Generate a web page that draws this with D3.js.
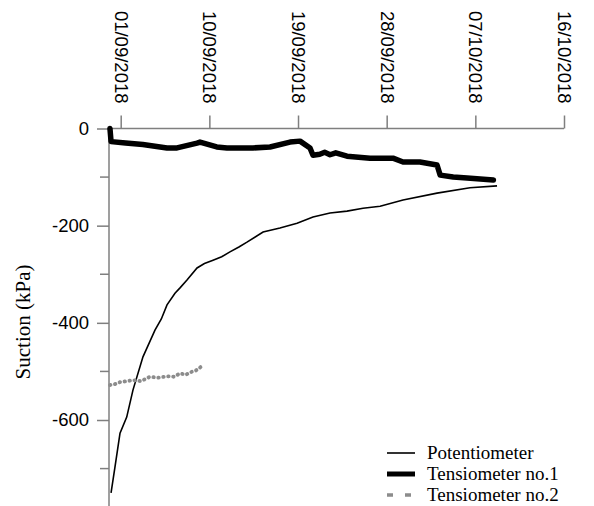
<!DOCTYPE html>
<html>
<head>
<meta charset="utf-8">
<script src="https://cdn.jsdelivr.net/npm/d3@7"></script>
<style>
  body { margin: 0; background: #fff; }
</style>
</head>
<body>
<div id="chart"></div>
<script>
// tick labels on the top axis
const tickDates = ["2018-09-01 00:00", "2018-09-10 00:00", "2018-09-19 00:00",
  "2018-09-28 00:00", "2018-10-07 00:00", "2018-10-16 00:00"];
const yTicks = [0, -200, -400, -600];
const yMinorTicks = [-100, -300, -500, -700];

// potentiometer
const potTimes = ["2018-08-31 00:30", "2018-08-31 10:00", "2018-08-31 22:20", "2018-09-01 14:40",
  "2018-09-02 06:00", "2018-09-03 06:15", "2018-09-04 11:30", "2018-09-05 03:00", "2018-09-05 16:50",
  "2018-09-06 12:15", "2018-09-07 00:30", "2018-09-07 17:30", "2018-09-08 18:00",
  "2018-09-09 12:00", "2018-09-10 09:00", "2018-09-11 06:00", "2018-09-12 02:10",
  "2018-09-13 00:00", "2018-09-13 19:40", "2018-09-15 10:50",
  "2018-09-17 04:00", "2018-09-18 21:40", "2018-09-20 12:30", "2018-09-22 06:00",
  "2018-09-23 23:20", "2018-09-25 14:25", "2018-09-27 08:00", "2018-09-29 15:50",
  "2018-10-03 02:40", "2018-10-06 11:00", "2018-10-09 04:50"];
const potValues = [-750, -697, -627, -594, -538, -470, -415, -392, -363, -339, -328, -312, -287,
  -278, -271, -264, -254, -244, -234, -213, -205, -195, -182, -174, -170, -164, -160, -147,
  -133, -122, -118];

// tensiometer no.1
const t1Times = ["2018-08-30 21:50", "2018-08-31 00:30", "2018-09-01 12:00", "2018-09-03 06:00",
  "2018-09-05 16:50", "2018-09-06 17:15", "2018-09-08 18:00", "2018-09-09 01:10",
  "2018-09-10 18:00", "2018-09-11 19:00", "2018-09-14 10:20", "2018-09-16 03:50",
  "2018-09-18 04:30", "2018-09-19 04:50", "2018-09-20 05:15", "2018-09-20 12:30",
  "2018-09-21 05:00", "2018-09-21 17:00", "2018-09-22 06:00", "2018-09-22 20:00",
  "2018-09-23 23:20", "2018-09-26 07:30", "2018-09-28 15:20", "2018-09-29 15:50",
  "2018-10-01 09:00", "2018-10-03 02:40", "2018-10-03 10:20", "2018-10-04 18:00",
  "2018-10-06 04:00", "2018-10-08 20:00"];
const t1Values = [0, -27, -30, -33, -40, -40, -30, -28, -38, -40, -40, -38, -28, -26, -40, -55,
  -53, -49, -54, -50, -57, -61, -61, -69, -69, -75, -96, -100, -102, -106];

// tensiometer no.2
const t2Times = ["2018-08-30 22:00", "2018-08-31 10:00", "2018-08-31 22:20", "2018-09-01 15:00",
  "2018-09-02 06:00", "2018-09-03 01:30", "2018-09-03 23:00", "2018-09-04 19:00",
  "2018-09-05 16:50", "2018-09-06 10:00", "2018-09-07 00:30", "2018-09-07 15:00",
  "2018-09-08 00:45", "2018-09-08 15:20", "2018-09-09 01:10", "2018-09-09 08:30"];
const t2Values = [-528, -526, -522, -520, -518, -520, -511, -513, -510, -511, -504, -507,
  -502, -498, -492, -487];

const parse = d3.timeParse("%Y-%m-%d %H:%M");

const width = 594, height = 506;
const svg = d3.select("#chart").append("svg")
  .attr("width", width).attr("height", height);

const x = d3.scaleTime()
  .domain([parse("2018-08-30 19:30"), parse("2018-10-16 00:00")])
  .range([109, 564]);
const y = d3.scaleLinear().domain([0, -777]).range([128.5, 506]);

const axisColor = "#7f7f7f";

// top x axis with rotated date labels
const xAxis = svg.append("g")
  .attr("transform", "translate(0,128.5)")
  .call(d3.axisTop(x)
    .tickValues(tickDates.map(parse))
    .tickSize(13)
    .tickPadding(8)
    .tickFormat(d3.timeFormat("%d/%m/%Y")));
xAxis.select(".domain").attr("stroke", axisColor).attr("stroke-width", 1.5)
  .attr("d", "M109,0H564");
xAxis.selectAll(".tick line").attr("stroke", axisColor).attr("stroke-width", 1.5);
xAxis.selectAll(".tick text")
  .attr("transform", "rotate(90)")
  .attr("x", -25)
  .attr("y", 0)
  .attr("dy", "0.35em")
  .attr("text-anchor", "end")
  .style("font-family", "Liberation Sans, Arial, sans-serif")
  .style("font-size", "18.5px")
  .attr("fill", "#000");

// left y axis
const yAxis = svg.append("g")
  .attr("transform", "translate(109,0)")
  .call(d3.axisLeft(y).tickValues(yTicks).tickSize(12).tickPadding(8).tickFormat(d => String(d)));
yAxis.select(".domain").attr("stroke", axisColor).attr("stroke-width", 1.5)
  .attr("d", "M0,128.5V506");
yAxis.selectAll(".tick line").attr("stroke", axisColor).attr("stroke-width", 1.5);
yAxis.selectAll(".tick text")
  .style("font-family", "Liberation Sans, Arial, sans-serif")
  .style("font-size", "18.5px")
  .attr("fill", "#000");

svg.append("g")
  .selectAll("line")
  .data(yMinorTicks)
  .join("line")
  .attr("x1", 100).attr("x2", 109)
  .attr("y1", d => y(d)).attr("y2", d => y(d))
  .attr("stroke", axisColor).attr("stroke-width", 1.5);

// axis title
svg.append("text")
  .attr("transform", "translate(30,322) rotate(-90)")
  .attr("text-anchor", "middle")
  .style("font-family", "Liberation Serif, Times New Roman, serif")
  .style("font-size", "21px")
  .text("Suction (kPa)");

const line = d3.line()
  .x(d => x(d.t))
  .y(d => y(d.v));

function series(times, values) {
  return times.map((t, i) => ({ t: parse(t), v: values[i] }));
}

// potentiometer
svg.append("path")
  .datum(series(potTimes, potValues))
  .attr("fill", "none")
  .attr("stroke", "#000")
  .attr("stroke-width", 1.6)
  .attr("d", line);

// tensiometer no.2
svg.append("path")
  .datum(series(t2Times, t2Values))
  .attr("fill", "none")
  .attr("stroke", "#8c8c8c")
  .attr("stroke-width", 3.8)
  .attr("stroke-linecap", "round")
  .attr("stroke-dasharray", "0.5,4.5")
  .attr("d", line);

// tensiometer no.1
svg.append("path")
  .datum(series(t1Times, t1Values))
  .attr("fill", "none")
  .attr("stroke", "#000")
  .attr("stroke-width", 5.5)
  .attr("stroke-linejoin", "round")
  .attr("stroke-linecap", "round")
  .attr("d", line);

// legend
const legendItems = [
  { name: "Potentiometer", color: "#000", w: 1.6, dash: null },
  { name: "Tensiometer no.1", color: "#000", w: 5, dash: null },
  { name: "Tensiometer no.2", color: "#8c8c8c", w: 3.5, dash: "6,12" }
];
const legend = svg.append("g").attr("transform", "translate(387,453)");
legendItems.forEach((it, i) => {
  const g = legend.append("g").attr("transform", `translate(0,${i * 21})`);
  g.append("line")
    .attr("x1", 0).attr("x2", 28)
    .attr("stroke", it.color)
    .attr("stroke-width", it.w)
    .attr("stroke-dasharray", it.dash);
  g.append("text")
    .attr("x", 40).attr("y", 6)
    .style("font-family", "Liberation Serif, Times New Roman, serif")
    .style("font-size", "19px")
    .text(it.name);
});
</script>
</body>
</html>
